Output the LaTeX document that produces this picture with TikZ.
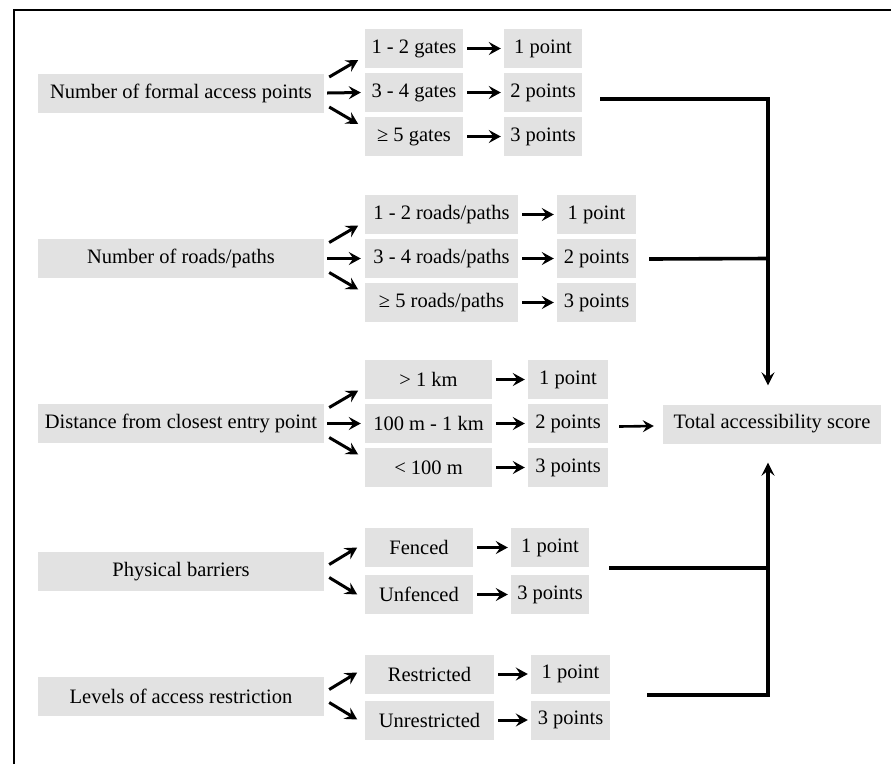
\documentclass[tikz,border=0pt]{standalone}
\usepackage{fontspec}
\setmainfont{Liberation Serif}
\usetikzlibrary{arrows.meta,calc}
\definecolor{boxgray}{RGB}{226,226,226}
\begin{document}
\begin{tikzpicture}[x=1pt,y=-1pt,
  box/.style={fill=boxgray, minimum height=39pt, inner sep=0pt, font=\fontsize{20.5}{24}\selectfont},
  mainbox/.style={box, minimum width=286pt},
  arr/.style={line width=3pt, -{Stealth[length=12pt,width=13pt,inset=4.5pt]}},
  link/.style={line width=3.6pt},
  linkarr/.style={line width=3.6pt, -{Stealth[length=13pt,width=13pt,inset=5pt]}},
  ]
\useasboundingbox (0,0) rectangle (891,764);
\draw[line width=2.4pt] (14,764) -- (14,10) -- (891,10);

% Group 1
\node[mainbox] (m1) at (181,93) {Number of formal access points};
\node[box, minimum width=98pt] (o1a) at (414,48.5) {1 - 2 gates};
\node[box, minimum width=98pt] (o1b) at (414,92.5) {3 - 4 gates};
\node[box, minimum width=98pt] (o1c) at (414,136.5) {≥ 5 gates};
\node[box, minimum width=78pt] (p1a) at (543,48.5) {1 point};
\node[box, minimum width=78pt] (p1b) at (543,92.5) {2 points};
\node[box, minimum width=78pt] (p1c) at (543,136.5) {3 points};

% Group 2
\node[mainbox] (m2) at (181,258.5) {Number of roads/paths};
\node[box, minimum width=153pt] (o2a) at (441.5,214.5) {1 - 2 roads/paths};
\node[box, minimum width=153pt] (o2b) at (441.5,258.5) {3 - 4 roads/paths};
\node[box, minimum width=153pt] (o2c) at (441.5,302.5) {≥ 5 roads/paths};
\node[box, minimum width=79pt] (p2a) at (596.5,214.5) {1 point};
\node[box, minimum width=79pt] (p2b) at (596.5,258.5) {2 points};
\node[box, minimum width=79pt] (p2c) at (596.5,302.5) {3 points};

% Group 3
\node[mainbox] (m3) at (181,423.5) {Distance from closest entry point};
\node[box, minimum width=127pt] (o3a) at (428.5,379.5) {> 1 km};
\node[box, minimum width=127pt] (o3b) at (428.5,423.5) {100 m - 1 km};
\node[box, minimum width=127pt] (o3c) at (428.5,467.5) {< 100 m};
\node[box, minimum width=80pt] (p3a) at (568,379.5) {1 point};
\node[box, minimum width=80pt] (p3b) at (568,423.5) {2 points};
\node[box, minimum width=80pt] (p3c) at (568,467.5) {3 points};
\node[box, minimum width=218pt] (tot) at (772,424) {Total accessibility score};

% Group 4
\node[mainbox] (m4) at (181,571.5) {Physical barriers};
\node[box, minimum width=108pt] (o4a) at (419,547.5) {Fenced};
\node[box, minimum width=108pt] (o4b) at (419,594.5) {Unfenced};
\node[box, minimum width=78pt] (p4a) at (550,547.5) {1 point};
\node[box, minimum width=78pt] (p4b) at (550,594.5) {3 points};

% Group 5
\node[mainbox] (m5) at (181,696.5) {Levels of access restriction};
\node[box, minimum width=129pt] (o5a) at (429.5,674) {Restricted};
\node[box, minimum width=129pt] (o5b) at (429.5,720) {Unrestricted};
\node[box, minimum width=79pt] (p5a) at (570.5,674) {1 point};
\node[box, minimum width=79pt] (p5b) at (570.5,720) {3 points};

% fan-out arrows (three options)
\foreach \m/\a/\b/\c in {m1/o1a/o1b/o1c, m2/o2a/o2b/o2c, m3/o3a/o3b/o3c}{
  \draw[arr] ($(\m.east)+(5,-16)$) -- ($(\m.east)+(34,-33)$);
  \draw[arr] ($(\m.east)+(3,0)$) -- ($(\b.west)+(-4,0)$);
  \draw[arr] ($(\m.east)+(5,14)$) -- ($(\m.east)+(34,31)$);
}
% fan-out arrows (two options)
\foreach \m in {m4, m5}{
  \draw[arr] ($(\m.east)+(5,-7)$) -- ($(\m.east)+(33,-24)$);
  \draw[arr] ($(\m.east)+(5,6)$) -- ($(\m.east)+(33,23)$);
}
% option -> points
\foreach \o/\p in {o1a/p1a, o1b/p1b, o1c/p1c, o2a/p2a, o2b/p2b, o2c/p2c,
                   o3a/p3a, o3b/p3b, o3c/p3c, o4a/p4a, o4b/p4b, o5a/p5a, o5b/p5b}{
  \draw[arr] ($(\o.east)+(4,0)$) -- ($(\p.west)+(-3,0)$);
}

% links to total
\coordinate (j1) at (768,99);
\coordinate (j5) at (768,695);
\draw[linkarr] ($(p1b.east)+(18,6.5)$) -- (j1) -- ($(tot.north -| j1)+(0,-19)$);
\draw[link] ($(p2b.east)+(13,0.5)$) -- (j1 |- p2b);
\draw[linkarr] ($(p5a.east)+(37,21)$) -- (j5) -- ($(tot.south -| j5)+(0,19)$);
\draw[link] ($(p4a.east)+(20,20.5)$) -- (j5 |- {$(p4a.east)+(0,20.5)$});
\draw[line width=2.6pt, -{Stealth[length=11pt,width=12pt,inset=4pt]}] ($(p3b.east)+(11,3)$) -- ($(tot.west)+(-9,2)$);
\end{tikzpicture}
\end{document}
